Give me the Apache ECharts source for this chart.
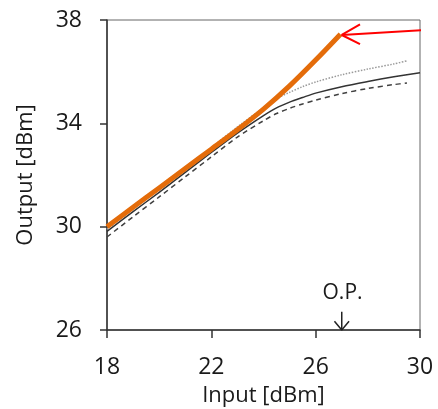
<!DOCTYPE html>
<html><head><meta charset="utf-8">
<script src="https://cdn.jsdelivr.net/npm/echarts@6/dist/echarts.min.js"></script>
<style>html,body{margin:0;padding:0;background:#fff}#c{width:438px;height:409px}</style>
</head><body><div id="c"></div>
<script>
// Data
const xTicks = [18, 22, 26, 30];
const yTicks = [26, 30, 34, 38];
const orangeX = [18, 19, 20, 21, 22, 23, 24, 25, 26, 26.95];
const orangeY = [30.0, 30.75, 31.5, 32.25, 33.0, 33.75, 34.55, 35.45, 36.45, 37.45];
const solidX = [18, 19, 20, 21, 22, 23, 24, 24.5, 25, 25.5, 26, 27, 28, 29, 30];
const solidY = [29.82, 30.58, 31.33, 32.1, 32.87, 33.62, 34.3, 34.6, 34.82, 35.0, 35.17, 35.42, 35.62, 35.8, 35.96];
const dashX = [18, 19, 20, 21, 22, 23, 24, 24.5, 25, 25.5, 26, 27, 28, 29, 29.5];
const dashY = [29.6, 30.38, 31.15, 31.93, 32.7, 33.47, 34.1, 34.38, 34.58, 34.75, 34.9, 35.15, 35.35, 35.5, 35.56];
const dotX = [18, 19, 20, 21, 22, 23, 24, 24.5, 25, 25.5, 26, 27, 28, 29, 29.5];
const dotY = [29.9, 30.7, 31.47, 32.26, 33.06, 33.86, 34.6, 34.95, 35.2, 35.42, 35.6, 35.88, 36.1, 36.3, 36.42];
// Annotations
const redArrowLine = [[30.69, 37.64], [27.0, 37.42]];
const redArrowHead = [[27.7, 37.83], [27.0, 37.42], [27.7, 37.07]];
const opLabelPos = [27.03, 27.45];
const opArrowLine = [[27.0, 26.71], [27.0, 26.0]];
const opArrowHead = [[26.72, 26.34], [27.0, 26.0], [27.28, 26.34]];

const zip = (xs, ys) => xs.map((x, i) => [x, ys[i]]);
const font = 'Open Sans';
const txt = '#1a1a1a';

const chart = echarts.init(document.getElementById('c'));
chart.setOption({
  animation: false,
  grid: { left: 107, right: 18, top: 20, bottom: 79, show: true, borderColor: '#666', borderWidth: 1,
          containLabel: false, outerBoundsMode: 'none' },
  xAxis: {
    type: 'value', min: xTicks[0], max: xTicks[xTicks.length - 1], interval: 4,
    name: 'Input [dBm]', nameLocation: 'middle', nameGap: 55,
    nameTextStyle: { fontFamily: font, fontSize: 22, color: txt },
    axisLine: { lineStyle: { color: '#333', width: 1.5 } },
    axisTick: { show: true, inside: false, length: 8, lineStyle: { color: '#333', width: 1.5 } },
    axisLabel: { fontFamily: font, fontSize: 23, color: txt, margin: 26 },
    splitLine: { show: false }
  },
  yAxis: {
    type: 'value', min: yTicks[0], max: yTicks[yTicks.length - 1], interval: 4,
    name: 'Output [dBm]', nameLocation: 'middle', nameGap: 70,
    nameTextStyle: { fontFamily: font, fontSize: 22, color: txt },
    axisLine: { show: true, lineStyle: { color: '#333', width: 1.5 } },
    axisTick: { show: true, inside: false, length: 7, lineStyle: { color: '#333', width: 1.5 } },
    axisLabel: { fontFamily: font, fontSize: 23, color: txt, margin: 25 },
    splitLine: { show: false }
  },
  series: [
    { type: 'line', data: zip(dotX, dotY), smooth: 0.3, symbol: 'none',
      lineStyle: { color: '#9a9a9a', width: 1.5, type: [1.5, 1.5] } },
    { type: 'line', data: zip(dashX, dashY), smooth: 0.3, symbol: 'none',
      lineStyle: { color: '#404040', width: 1.5, type: [5, 4] } },
    { type: 'line', data: zip(solidX, solidY), smooth: 0.3, symbol: 'none',
      lineStyle: { color: '#333', width: 1.5 } },
    { type: 'line', data: zip(orangeX, orangeY), smooth: 0.3, symbol: 'none',
      lineStyle: { color: '#E46C0A', width: 5, cap: 'butt' } },
    { type: 'line', data: redArrowLine, symbol: 'none', clip: false,
      lineStyle: { color: '#ff0000', width: 2 } },
    { type: 'line', data: redArrowHead, symbol: 'none', clip: false,
      lineStyle: { color: '#ff0000', width: 2 } },
    { type: 'line', data: opArrowLine, symbol: 'none', clip: false,
      lineStyle: { color: '#222', width: 1.5 } },
    { type: 'line', data: opArrowHead, symbol: 'none', clip: false,
      lineStyle: { color: '#222', width: 1.5 } },
    { type: 'scatter', data: [opLabelPos], symbolSize: 0, itemStyle: { color: '#000', opacity: 1 },
      label: { show: true, position: 'inside', formatter: 'O.P.', fontFamily: font, fontSize: 21, color: txt, opacity: 1 } }
  ]
});
</script></body></html>
